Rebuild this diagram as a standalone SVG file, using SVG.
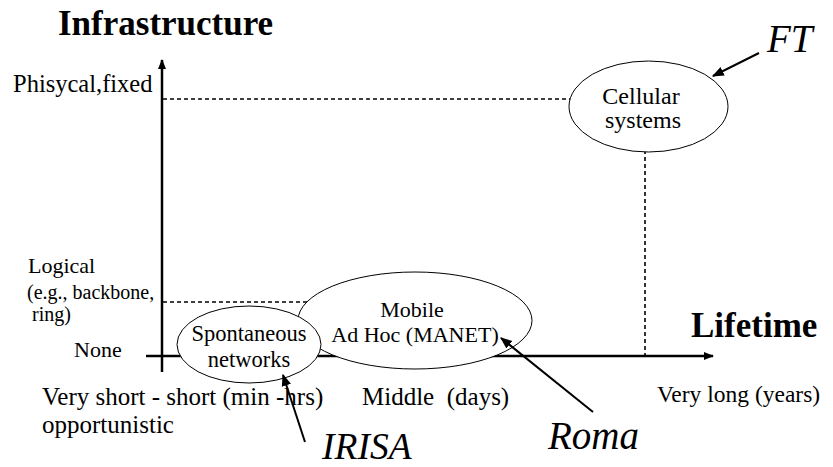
<svg xmlns="http://www.w3.org/2000/svg" width="833" height="467" viewBox="0 0 833 467">
  <defs>
    <marker id="axisHead" viewBox="0 0 10 10" refX="9" refY="5" markerWidth="4" markerHeight="4" orient="auto" markerUnits="strokeWidth">
      <path d="M0,1 L10,5 L0,9 z" fill="#000"/>
    </marker>
    <marker id="ptrHead" viewBox="0 0 10 10" refX="9" refY="5" markerWidth="6" markerHeight="6" orient="auto" markerUnits="strokeWidth">
      <path d="M0,1 L10,5 L0,9 z" fill="#000"/>
    </marker>
  </defs>
  <style>
    .axis { stroke: #000; stroke-width: 2.5; fill: none; }
    .dash { stroke: #000; stroke-width: 1.6; stroke-dasharray: 4 3; fill: none; }
    .ptr { stroke: #000; stroke-width: 2; fill: none; }
    .node { fill: #fff; stroke: #000; stroke-width: 1; }
  </style>
  <rect width="833" height="467" fill="#fff"/>

  <!-- axes and guide lines -->
  <g id="connectors">
    <line class="dash" x1="163" y1="99" x2="570" y2="99"/>
    <line class="dash" x1="163" y1="302" x2="310" y2="302"/>
    <line class="dash" x1="645" y1="150" x2="645" y2="356"/>
    <line class="axis" x1="162" y1="372" x2="162" y2="60" marker-end="url(#axisHead)"/>
    <line class="axis" x1="146" y1="356" x2="713" y2="356" marker-end="url(#axisHead)"/>
  </g>

  <g font-family="Liberation Serif, Times New Roman, serif" fill="#000">
    <!-- nodes -->
    <g id="manet">
      <ellipse class="node" cx="415" cy="320.5" rx="117" ry="48.5"/>
      <text x="412" y="317" font-size="22" text-anchor="middle">Mobile</text>
      <text x="415" y="342" font-size="22" text-anchor="middle">Ad Hoc (MANET)</text>
    </g>
    <g id="spontaneous">
      <ellipse class="node" cx="249" cy="344.5" rx="72" ry="38.5"/>
      <text x="249" y="341" font-size="22.5" text-anchor="middle">Spontaneous</text>
      <text x="249" y="367" font-size="22.5" text-anchor="middle">networks</text>
    </g>
    <g id="cellular">
      <ellipse class="node" cx="648.5" cy="106.5" rx="79.5" ry="45.5"/>
      <text x="641" y="104" font-size="24" text-anchor="middle">Cellular</text>
      <text x="643" y="128" font-size="24" text-anchor="middle">systems</text>
    </g>

    <!-- pointer arrows -->
    <g id="pointers">
      <line class="ptr" x1="759" y1="53" x2="713" y2="76" marker-end="url(#ptrHead)"/>
      <line class="ptr" x1="593" y1="412" x2="501" y2="338" marker-end="url(#ptrHead)"/>
      <line class="ptr" x1="305" y1="442" x2="283" y2="375" marker-end="url(#ptrHead)"/>
    </g>

    <!-- axis titles and labels -->
    <g id="labels">
      <text x="58" y="35" font-size="35" font-weight="bold">Infrastructure</text>
      <text x="691" y="337" font-size="35" font-weight="bold">Lifetime</text>
      <text x="13" y="92" font-size="24.5">Phisycal,fixed</text>
      <text x="28" y="273" font-size="22">Logical</text>
      <text x="27" y="299" font-size="20">(e.g., backbone,</text>
      <text x="27" y="321" font-size="20" xml:space="preserve"> ring)</text>
      <text x="74" y="357" font-size="22">None</text>
      <text x="42" y="405" font-size="25">Very short - short (min -hrs)</text>
      <text x="42" y="433" font-size="25">opportunistic</text>
      <text x="362" y="405" font-size="25" xml:space="preserve">Middle  (days)</text>
      <text x="657" y="402" font-size="23.5">Very long (years)</text>
    </g>
    <g id="sites">
      <text x="767" y="52" font-size="39" font-style="italic">FT</text>
      <text x="322" y="459" font-size="37.5" font-style="italic">IRISA</text>
      <text x="548" y="449" font-size="39" font-style="italic">Roma</text>
    </g>
  </g>
</svg>
